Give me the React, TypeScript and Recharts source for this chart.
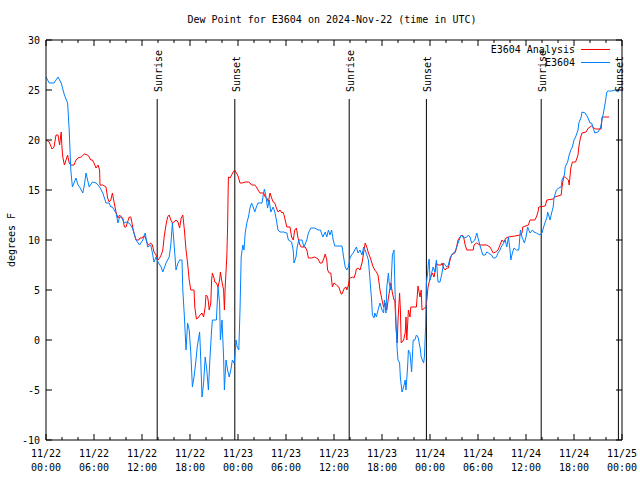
import React from 'react';
import { LineChart, Line, XAxis, YAxis, ReferenceLine, Legend } from 'recharts';

// ---- data (hours since 2024-11-22 00:00 UTC, dew point in °F) ----
const analysisHours = [0,0.4,0.75,1,1.25,1.5,1.7,1.9,2,2.1,2.3,2.5,2.7,2.9,3.1,3.5,3.75,4,4.4,4.8,5.2,5.4,5.6,5.8,6,6.25,6.5,6.7,6.75,7.1,7.5,7.7,7.9,8.1,8.3,8.5,8.75,9,9.2,9.4,9.6,9.8,10,10.2,10.4,10.6,10.75,10.9,11,11.25,11.6,11.75,12,12.2,12.4,12.6,12.8,13.1,13.3,13.5,13.75,14,14.2,14.4,14.6,14.8,15,15.2,15.4,15.6,15.8,16,16.25,16.5,16.7,16.9,17.1,17.3,17.5,17.7,17.9,18.1,18.5,18.6,18.8,19,19.25,19.5,19.7,19.9,20,20.2,20.3,20.4,20.6,20.7,20.8,21,21.1,21.3,21.5,21.7,21.8,22,22.2,22.3,22.4,22.6,22.7,22.75,22.8,23,23.2,23.4,23.6,23.8,24,24.25,24.5,24.9,25.3,25.5,25.7,26.1,26.3,26.5,26.75,27.2,27.4,27.6,27.8,28,28.2,28.4,28.6,28.8,29,29.25,29.5,29.6,29.75,29.9,30.1,30.5,30.7,30.9,31.1,31.3,31.5,31.75,31.9,32.4,32.6,32.8,33.2,33.6,34,34.25,34.5,34.75,34.9,35.1,35.2,35.4,35.6,35.7,35.8,36,36.3,36.6,36.9,37,37.3,37.5,37.6,37.8,37.95,38.1,38.3,38.5,38.7,38.8,39,39.25,39.5,39.7,39.9,40.1,40.3,40.5,40.7,40.9,41.1,41.3,41.5,41.75,42,42.2,42.4,42.6,42.8,43,43.1,43.3,43.5,43.6,43.75,43.9,44,44.2,44.3,44.4,44.7,44.9,45,45.1,45.3,45.5,45.6,46.3,46.5,46.75,46.9,47,47.5,47.6,47.75,47.9,48.1,48.3,48.5,48.6,48.8,49,49.4,49.5,49.7,49.9,50.1,50.3,50.5,50.7,51.1,51.25,51.5,51.75,52,52.2,52.4,52.6,53.4,53.5,53.8,54.25,55.1,55.5,55.9,56.2,56.5,56.75,57,57.2,57.5,57.8,58.6,59.3,59.5,59.6,60.3,60.5,61.1,61.3,61.5,61.6,62.4,62.6,63.4,63.6,64.4,64.5,64.7,64.9,65.3,65.4,65.6,65.8,66.2,66.5,66.6,66.8,67,67.5,67.8,68.2,68.5,68.7,69.4,69.5,70.4];
const analysisValues = [20,19.8,19.1,19.3,20.5,20.5,19.5,20.8,19.2,18.3,17.5,18,18.5,17.7,17.5,17.5,18,18.2,18.3,18.6,18.5,18.3,18,18,17.7,17.2,17.5,17,15.5,15.5,15.3,14.2,13.8,14,14.7,13.8,12.8,12.2,12.5,12.3,12.2,11.3,11.3,11.8,12.3,12.3,11.7,11,10.7,10,10,10.2,10.2,10.4,10.3,9.8,9.5,9.7,9.5,8.8,8.5,8,8.2,8.5,9,10.5,11.5,12.3,12.5,12,11.7,11.8,12,11.8,11.2,12.2,12.5,11,9,7.7,6,5,5,3.3,2.1,2.2,2.5,2.7,2.3,3.3,4.5,4.3,3.8,3,3.7,6,6.7,6.2,5.8,5.7,5.3,6,6.8,5.8,5,3,5.3,8.3,11.3,14,16.3,16.2,16.5,16.8,17,16.7,16.4,15.7,15.7,15.8,15.8,15.7,15.5,15.5,15.3,15,14.7,14.7,14.3,14.2,13.8,14.7,14.2,13.8,13.7,13.2,12.8,13,12.7,12.8,12.5,12,11.3,11.3,10.3,10,11,11.2,10.2,9.5,9.3,9.3,9,8.2,8.2,8.3,8.1,7.7,7.7,8.2,8.6,8,7,6.7,6.7,6,5.3,5.7,5.5,5.3,4.6,4.6,5.2,5.3,5,5.5,6.2,6.2,6.3,6.2,6.7,7.1,7.2,7,7.7,8.7,9.7,9.3,8.7,8.3,7.8,7.3,7,6.8,6.5,5,4,3.3,3.7,3,4.2,5.2,5.7,4.7,4,4,1.3,-0.3,2,4.7,3,-0.3,0,0.7,2.3,0,3,2.3,3.3,3.3,5.4,4.3,5,3,3.3,4,5.3,5.8,6.3,6.7,6.3,6.7,7.7,7.5,7.5,7.7,7.2,7,7.2,7.2,8,8.5,8.7,9,10,10.3,10.5,10.3,9.5,9,9,9.5,9.7,9.5,9.5,9.3,8.7,8.8,9,9.5,10,9.8,10.2,10.3,10.4,10.5,10.7,11.3,11.5,12,12,12.3,12.8,13.3,13.4,14,14.1,14.3,14.5,15.3,16.3,16.3,16,15.5,17.2,17.8,17.8,18.5,19.3,20.2,20.7,20.8,21.2,21.4,21.2,21.1,21.1,22.3,22.3];

const stationHours = [0,0.4,1,1.5,1.9,2.3,2.7,2.9,3,3.1,3.3,3.75,4,4.2,4.6,4.8,5,5.2,5.4,5.8,6.25,6.5,6.7,6.9,7.1,7.3,7.5,7.9,8.1,8.3,8.75,9,9.2,9.4,9.8,10,10.4,10.8,11,11.25,11.7,12.1,12.4,12.7,13.1,13.3,13.5,13.75,14,14.4,14.6,15,15.4,15.6,15.8,16,16.25,16.5,16.7,17,17.1,17.3,17.5,17.7,17.9,18.1,18.3,18.5,18.75,18.9,19.2,19.3,19.5,19.7,19.9,20.1,20.3,20.5,20.7,20.8,21.3,21.5,21.7,21.8,22,22.2,22.3,22.5,22.7,22.9,23.1,23.3,23.5,23.6,23.75,23.9,24.1,24.25,24.4,24.6,24.75,24.9,25.1,25.3,25.5,25.7,25.9,26.1,26.3,26.5,27,27.2,27.3,27.5,27.7,27.9,28.1,28.4,28.6,28.8,29,29.25,29.7,30.1,30.3,30.7,30.9,31,31.25,31.4,31.6,32,32.25,32.6,32.8,33.1,33.6,34,34.3,34.6,34.9,35.1,35.3,35.5,35.7,35.9,36.1,37,37.2,37.4,37.6,37.8,38,38.2,38.4,38.6,38.8,39,39.25,39.5,39.7,39.9,40.1,40.3,40.5,40.7,40.8,41,41.1,41.3,41.5,41.75,42,42.2,42.3,42.5,42.6,42.8,42.9,43.1,43.3,43.5,43.6,43.75,43.9,44,44.2,44.3,44.5,44.7,44.9,45,45.2,45.3,45.5,45.7,45.9,46.1,46.3,46.5,46.75,46.9,47.2,47.3,47.45,47.55,47.7,47.8,47.9,48,48.2,48.4,48.6,48.8,49,49.25,49.5,49.7,49.9,50.1,50.3,50.5,50.7,50.9,51.1,51.3,51.5,51.75,51.9,52.2,52.6,52.8,53,53.2,53.6,53.85,54.1,54.3,54.6,54.9,55.1,55.3,55.7,55.9,56.1,56.3,56.5,56.75,56.9,57.2,57.4,57.6,57.8,58,58.1,58.3,58.5,58.8,59.1,59.3,59.5,59.8,60,60.2,60.5,60.8,61,61.3,61.75,62,62.2,62.4,62.6,62.7,62.9,63,63.2,63.4,63.5,63.8,64.1,64.4,64.5,64.8,64.9,65.2,65.4,65.6,65.8,66,66.2,66.5,66.6,66.9,67,67.4,67.7,68,68.2,68.4,68.6,69,69.3,69.5,69.7,69.9,70.1,70.3,70.7,71.1,71.6];
const stationValues = [26.3,25.7,25.7,26.3,25.7,24.5,23.7,21,19,17,15.3,16.2,15.5,15.3,14.7,15.5,16.7,16,15.3,15.8,15.7,15.5,15.3,15,14.7,14.2,13.7,13.7,13.3,13.3,12.7,11.7,12.3,12.3,11.7,11.8,11.7,11.2,10.7,10,9.5,10,10.7,9.3,9.5,8.7,7.8,8.3,7.8,7.3,6.8,7.7,8.3,9.5,11.7,9.7,7,7.7,8,8,5,2.3,-1,1.7,1,-1.3,-4.7,-3.7,-2,-0.7,0.8,-1,-5.7,-4.3,-1.7,-3,-5,-1.7,1,2,2,5.3,3.7,0,2,-1.7,-5,-2,-3,-3.7,-3,-2,-2.3,-1.7,0,-0.7,-1,3,8.3,9.5,9,10.7,11.7,12.3,13.2,13.7,13.3,12.8,13.3,13.7,13.7,14.7,15.1,14.3,13.2,14,12.8,13.3,12.8,12,11,10.8,10.8,10.7,10,9.8,9,7.7,8.3,9.3,10,10,9.3,10,10.7,11.2,11.2,11,11,10.3,10.8,10.3,11,10.5,11,10,9.4,9.4,8.3,7.3,7,7.3,8.2,8.5,8.7,9,9.3,8.7,9,8.5,9.3,9,8.5,8,6,4,2.5,2.2,2.7,2.3,3,3.7,3,2.7,4,2.7,5.3,6.7,5.7,5,8.5,9,5.7,1.7,-1,-2,-2.3,-3.8,-5.2,-4.7,-4,-5,-2.7,-1,-1.3,-3.2,0,0,0.5,0.3,-0.7,-1.7,-2.3,-1.7,1.3,5.7,6.7,7.7,8.1,6,6.7,7.3,6.8,8,5.8,5.8,6.7,7.7,7.5,7.3,7.5,8.2,8.5,8.7,8.8,9.2,9.7,10.2,10.5,10.2,10.3,10.5,10.3,9.7,10,10.7,9.9,9.3,8.5,8.5,8.8,8.7,8.5,8.2,8.2,8.3,8.7,9,9.3,9.7,10,9.3,10.3,9,8,8.7,9.2,9,9,11,10.3,9.7,10.3,11.3,10.7,11,10.8,10.7,10.5,10.7,11.3,11.8,12.2,12.8,12.3,12,12.7,13.3,14.2,15,15.2,15.3,16,16.5,17.3,17.8,18.5,19,19.3,20,20.3,21,21.7,22.3,22.8,22.7,22.3,21.7,21.7,21.2,20.7,20.8,21.2,22,22.8,23.7,24.8,24.9,24.9,25,24.8];

const sunEventHours = [13.9, 23.6, 37.9, 47.55, 61.9, 71.55];
const sunEventNames = ['Sunrise', 'Sunset', 'Sunrise', 'Sunset', 'Sunrise', 'Sunset'];

const xTicks = [0,2,4,6,8,10,12,14,16,18,20,22,24,26,28,30,32,34,36,38,40,42,44,46,48,50,52,54,56,58,60,62,64,66,68,70,72];
const yTicks = [-10, -5, 0, 5, 10, 15, 20, 25, 30];
const seriesNames = ['E3604 Analysis', 'E3604'];
const seriesColors = ['#ff0000', '#0080ff'];
const titleText = 'Dew Point for E3604 on 2024-Nov-22 (time in UTC)';
const yAxisTitle = 'degrees F';
const startDay = 22;
const monthNum = 11;

const analysisData = analysisHours.map((t, i) => ({ t, v: analysisValues[i] }));
const stationData = stationHours.map((t, i) => ({ t, v: stationValues[i] }));

const FONT = '"DejaVu Sans Mono", "Liberation Mono", monospace';
const pad = (n: number) => (n < 10 ? '0' + n : '' + n);

const XTickBottom = (props: any) => {
  const { x, y, payload } = props;
  const h = payload.value as number;
  const major = h % 6 === 0;
  const len = major ? 6 : 3;
  const day = startDay + Math.floor(h / 24);
  const hh = h % 24;
  return (
    <g>
      <line x1={x} y1={y} x2={x} y2={y - len} stroke="#000" strokeWidth={1} />
      {major && (
        <text x={x} y={y + 17} textAnchor="middle" fontFamily={FONT} fontSize={10} fill="#000">
          {`${monthNum}/${day}`}
        </text>
      )}
      {major && (
        <text x={x} y={y + 31} textAnchor="middle" fontFamily={FONT} fontSize={10} fill="#000">
          {`${pad(hh)}:00`}
        </text>
      )}
    </g>
  );
};

const XTickTop = (props: any) => {
  const { x, y, payload } = props;
  const h = payload.value as number;
  const len = h % 6 === 0 ? 6 : 3;
  return <line x1={x} y1={y} x2={x} y2={y + len} stroke="#000" strokeWidth={1} />;
};

const YTickLeft = (props: any) => {
  const { x, y, payload } = props;
  return (
    <g>
      <line x1={x} y1={y} x2={x + 6} y2={y} stroke="#000" strokeWidth={1} />
      <text x={x - 6} y={y + 4} textAnchor="end" fontFamily={FONT} fontSize={10} fill="#000">
        {payload.value}
      </text>
    </g>
  );
};

const YTickRight = (props: any) => {
  const { x, y } = props;
  return <line x1={x} y1={y} x2={x - 6} y2={y} stroke="#000" strokeWidth={1} />;
};

const makeSunLabel = (name: string) => (props: any) => {
  const vb = props.viewBox || {};
  const lx = (vb.x ?? 0) + 1.5;
  const ly = (vb.y ?? 0) - 7;
  return (
    <text
      x={lx}
      y={ly}
      transform={`rotate(-90, ${lx}, ${ly})`}
      textAnchor="start"
      dominantBaseline="central"
      fontFamily={FONT}
      fontSize={10}
      fill="#000"
    >
      {name}
    </text>
  );
};

const LegendContent = () => (
  <div style={{ position: 'relative', width: 0, height: 0 }}>
    {seriesNames.map((name, i) => (
      <div key={name}>
        <div
          style={{
            position: 'absolute',
            right: 640 - 575,
            top: 43 + i * 13,
            whiteSpace: 'nowrap',
            fontFamily: FONT,
            fontSize: 10,
            lineHeight: '13px',
            color: '#000',
            textAlign: 'right',
            width: 200,
            left: 575 - 200,
          }}
        >
          {name}
        </div>
        <div
          style={{
            position: 'absolute',
            left: 581,
            width: 29,
            top: 49 + i * 13,
            height: 1,
            background: seriesColors[i],
          }}
        />
      </div>
    ))}
  </div>
);

export default function App() {
  return (
    <div style={{ position: 'absolute', left: 0, top: 0, width: 640, height: 480, background: '#fff' }}>
      <LineChart width={640} height={480} margin={{ top: 34, right: 0, bottom: 0, left: 0 }}>
        <XAxis
          dataKey="t"
          type="number"
          domain={[0, 72]}
          ticks={xTicks}
          interval={0}
          allowDataOverflow
          height={40}
          tickSize={0}
          tickMargin={0}
          tickLine={false}
          axisLine={{ stroke: '#000' }}
          tick={<XTickBottom />}
        />
        <XAxis
          xAxisId="top"
          orientation="top"
          dataKey="t"
          type="number"
          domain={[0, 72]}
          ticks={xTicks}
          interval={0}
          allowDataOverflow
          height={6}
          tickSize={0}
          tickMargin={0}
          tickLine={false}
          axisLine={{ stroke: '#000' }}
          tick={<XTickTop />}
        />
        <YAxis
          type="number"
          domain={[-10, 30]}
          ticks={yTicks}
          interval={0}
          allowDataOverflow
          width={46}
          tickSize={0}
          tickMargin={0}
          tickLine={false}
          axisLine={{ stroke: '#000' }}
          tick={<YTickLeft />}
          label={(p: any) => (
            <text
              x={11}
              y={240}
              transform="rotate(-90, 11, 240)"
              textAnchor="middle"
              dominantBaseline="central"
              fontFamily={FONT}
              fontSize={10}
              fill="#000"
            >
              {yAxisTitle}
            </text>
          )}
        />
        <YAxis
          yAxisId="right"
          orientation="right"
          type="number"
          domain={[-10, 30]}
          ticks={yTicks}
          interval={0}
          allowDataOverflow
          width={18}
          tickSize={0}
          tickMargin={0}
          tickLine={false}
          axisLine={{ stroke: '#000' }}
          tick={<YTickRight />}
        />
        {sunEventHours.map((h, i) => (
          <ReferenceLine
            key={'sun' + i}
            segment={[{ x: h, y: 24.1 }, { x: h, y: -10 }]}
            stroke="#000"
            strokeWidth={1}
            ifOverflow="visible"
            label={makeSunLabel(sunEventNames[i])}
          />
        ))}
        <Line
          data={analysisData}
          dataKey="v"
          name={seriesNames[0]}
          type="linear"
          stroke={seriesColors[0]}
          strokeWidth={1}
          dot={false}
          activeDot={false}
          isAnimationActive={false}
        />
        <Line
          data={stationData}
          dataKey="v"
          name={seriesNames[1]}
          type="linear"
          stroke={seriesColors[1]}
          strokeWidth={1}
          dot={false}
          activeDot={false}
          isAnimationActive={false}
        />
        <Legend
          layout="horizontal"
          verticalAlign="middle"
          align="center"
          content={<LegendContent />}
          wrapperStyle={{ position: 'absolute', left: 0, top: 0, width: 0, height: 0 }}
        />
      </LineChart>
      <div
        style={{
          position: 'absolute',
          left: 0,
          width: 664,
          top: 13,
          textAlign: 'center',
          fontFamily: FONT,
          fontSize: 10,
          lineHeight: '14px',
          color: '#000',
          whiteSpace: 'nowrap',
        }}
      >
        {titleText}
      </div>
    </div>
  );
}
